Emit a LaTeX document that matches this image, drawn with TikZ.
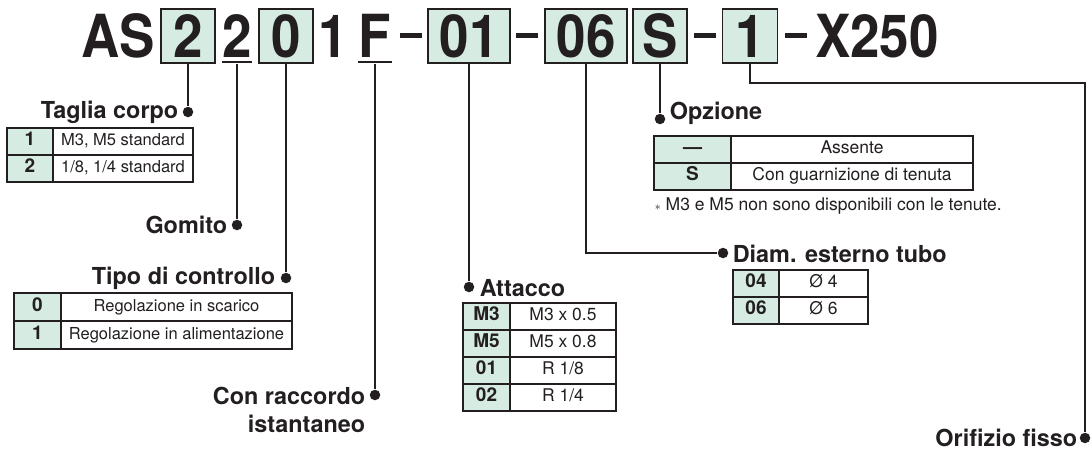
\documentclass[tikz,border=0pt]{standalone}
\usepackage{fontspec}
\setmainfont{TeX Gyre Heros}
\usepackage{graphicx}

\definecolor{ink}{RGB}{35,31,32}
\definecolor{mint}{RGB}{214,236,227}

\newcommand{\tallchar}[1]{\scalebox{1}[1.12]{#1}}

\tikzset{every picture/.style={line width=1.6pt}}
\tikzset{
  codebox/.style={draw=ink, fill=mint, line width=1.9pt, inner sep=0pt, minimum height=54pt, text=ink, font=\bfseries\fontsize{53}{53}\selectfont},
  codechar/.style={inner sep=0pt, text=ink, font=\bfseries\fontsize{53}{53}\selectfont},
  ubar/.style={fill=ink, inner sep=0pt, minimum height=2.8pt},
  hbar/.style={fill=ink, inner sep=0pt, minimum width=22pt, minimum height=5pt},
  conn/.style={draw=ink, line width=2.4pt},
  dot/.style={circle, fill=ink, inner sep=0pt, minimum size=10.5pt},
  lbl/.style={inner sep=0pt, text=ink, font=\bfseries\fontsize{23.4}{23.4}\selectfont},
  cell/.style={draw=ink, line width=2pt, anchor=north west, inner sep=0pt, outer sep=0pt, minimum height=27pt, text height=11.5pt, text depth=3pt, text=ink, font=\fontsize{16.5}{16.5}\selectfont},
  keycell/.style={cell, fill=mint, font=\bfseries\fontsize{19}{19}\selectfont},
  bigtext/.style={font=\fontsize{17.5}{17.5}\selectfont},
  note/.style={inner sep=0pt, text=ink, font=\fontsize{16.5}{16.5}\selectfont}
}

\begin{document}
\begin{tikzpicture}[x=1pt,y=1pt,yscale=-1,xscale=1]
\path[use as bounding box] (0,0) rectangle (1091,450);

% Code row
\node[codechar] (as) at (118,36) {\tallchar{AS}};
\node[codebox, minimum width=54pt] (body) at (188,36) {\tallchar{2}};
\node[codechar] (elbow) at (237,36) {\tallchar{2}};
\node[ubar, minimum width=30pt] (elbowbar) at (237,62) {};
\node[codebox, minimum width=54pt] (ctrl) at (286,36) {\tallchar{0}};
\node[codechar] (one) at (333,36) {\tallchar{1}};
\node[codechar] (fit) at (375,36) {\tallchar{F}};
\node[ubar, minimum width=34pt] (fitbar) at (375,62) {};
\node[hbar] (h1) at (411,35) {};
\node[codebox, minimum width=82pt] (port) at (469,36) {\tallchar{01}};
\node[hbar] (h2) at (527,35) {};
\node[codebox, minimum width=82pt] (tube) at (586,36) {\tallchar{06}};
\node[codebox, minimum width=54pt] (opt) at (660,36) {\tallchar{S}};
\node[hbar] (h3) at (705,35) {};
\node[codebox, minimum width=55pt] (orif) at (750,36) {\tallchar{1}};
\node[hbar] (h4) at (796,35) {};
\node[codechar] (xcode) at (877,36) {\tallchar{X250}};

%Shape: Circle
\node[dot] (dbody) at (188,112) {};
\node[dot] (delbow) at (237,225) {};
\node[dot] (dctrl) at (286,278) {};
\node[dot] (dfit) at (375,395) {};
\node[dot] (dport) at (469,287) {};
\node[dot] (dopt) at (660,119) {};
\node[dot] (dtube) at (723,253) {};
\node[dot] (dorif) at (1085,438) {};
\coordinate (turn) at (1085,83);

%Straight Lines
\draw[conn] (body.south) -- (dbody);
\draw[conn] (elbowbar.south) -- (delbow);
\draw[conn] (ctrl.south) -- (dctrl);
\draw[conn] (fitbar.south) -- (dfit);
\draw[conn] (port.south) -- (dport);
\draw[conn] (tube.south) |- (dtube);
\draw[conn] (opt.south) -- (dopt);
\draw[conn, line width=2pt] (orif.south) |- (turn) -- (dorif);

% Text Node
\node[lbl, anchor=east] (lbody) at (179,112) {Taglia corpo};
\node[lbl, anchor=east] (lelbow) at (228,225) {Gomito};
\node[lbl, anchor=east] (lctrl) at (276,278) {Tipo di controllo};
\node[lbl, anchor=east] (lfit) at (366,396) {Con raccordo};
\node[lbl, anchor=east] (lfit2) at (366,424) {istantaneo};
\node[lbl, anchor=west] (lport) at (479,288) {Attacco};
\node[lbl, anchor=west] (lopt) at (669,113) {Opzione};
\node[lbl, anchor=west] (ltube) at (732,254) {Diam. esterno tubo};
\node[lbl, anchor=east] (lorif) at (1078,438) {Orifizio fisso};

% Taglia corpo table
\node[keycell, minimum width=46pt] (s1k) at (7,128) {1};
\node[cell, minimum width=140pt] (s1v) at (s1k.north east) {M3, M5 standard};
\node[keycell, minimum width=46pt] (s2k) at (s1k.south west) {2};
\node[cell, minimum width=140pt] (s2v) at (s2k.north east) {1/8, 1/4 standard};

% Tipo di controllo table
\node[keycell, minimum width=47pt, minimum height=28pt] (c1k) at (14,293) {0};
\node[cell, minimum width=231pt, minimum height=28pt] (c1v) at (c1k.north east) {Regolazione in scarico};
\node[keycell, minimum width=47pt, minimum height=28pt] (c2k) at (c1k.south west) {1};
\node[cell, minimum width=231pt, minimum height=28pt] (c2v) at (c2k.north east) {Regolazione in alimentazione};

% Attacco table
\node[keycell, minimum width=47pt] (p1k) at (463,303) {M3};
\node[cell, bigtext, minimum width=106pt] (p1v) at (p1k.north east) {M3 x 0.5};
\node[keycell, minimum width=47pt] (p2k) at (p1k.south west) {M5};
\node[cell, bigtext, minimum width=106pt] (p2v) at (p2k.north east) {M5 x 0.8};
\node[keycell, minimum width=47pt] (p3k) at (p2k.south west) {01};
\node[cell, bigtext, minimum width=106pt] (p3v) at (p3k.north east) {R 1/8};
\node[keycell, minimum width=47pt] (p4k) at (p3k.south west) {02};
\node[cell, bigtext, minimum width=106pt] (p4v) at (p4k.north east) {R 1/4};

% Diam. esterno tubo table
\node[keycell, minimum width=46pt] (t1k) at (733,270) {04};
\node[cell, bigtext, minimum width=89pt] (t1v) at (t1k.north east) {Ø 4};
\node[keycell, minimum width=46pt] (t2k) at (t1k.south west) {06};
\node[cell, bigtext, minimum width=89pt] (t2v) at (t2k.north east) {Ø 6};

% Opzione table
\node[keycell, minimum width=77pt] (o1k) at (654,136) {—};
\node[cell, bigtext, minimum width=242pt] (o1v) at (o1k.north east) {Assente};
\node[keycell, minimum width=77pt] (o2k) at (o1k.south west) {S};
\node[cell, bigtext, minimum width=242pt] (o2v) at (o2k.north east) {Con guarnizione di tenuta};
\node[note, bigtext, anchor=west] (onote) at (654,206) {{\fontsize{13}{13}\selectfont$\ast$} M3 e M5 non sono disponibili con le tenute.};

\end{tikzpicture}
\end{document}
